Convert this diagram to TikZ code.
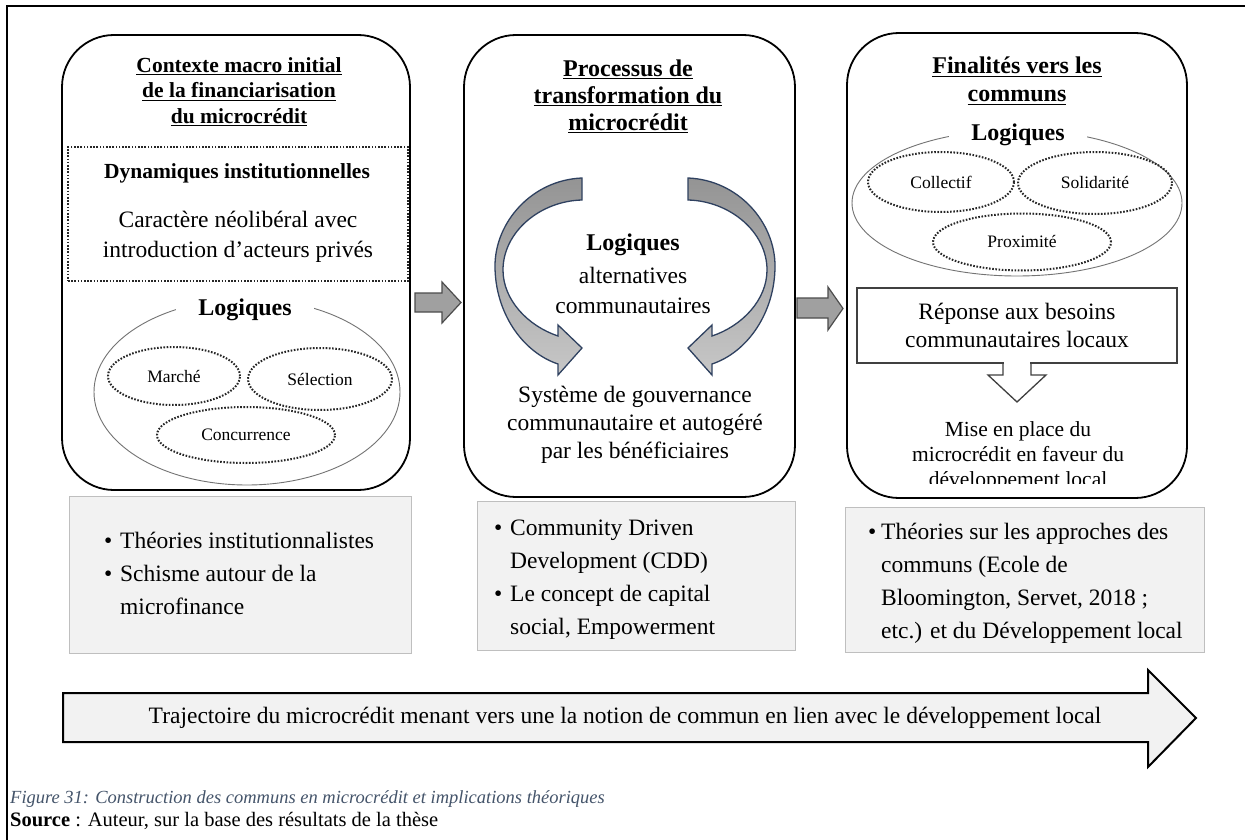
\documentclass[tikz,border=0pt]{standalone}
\usepackage{fontspec}
\setmainfont{Liberation Serif}
\usetikzlibrary{shapes.geometric}
\definecolor{capblue}{HTML}{44546A}
\definecolor{boxfill}{HTML}{F2F2F2}
\definecolor{boxline}{HTML}{BFBFBF}
\definecolor{navyline}{HTML}{2F4160}
\definecolor{arrowgray}{HTML}{A0A0A0}
\newsavebox\ulbox
\newcommand\ulx[1]{\sbox\ulbox{#1}\rlap{\rule[-3pt]{\wd\ulbox}{1.3pt}}\usebox\ulbox}
\tikzset{
  rbox/.style={draw, line width=1.8pt, rounded corners=52pt, inner sep=0pt},
  ttlA/.style={align=center, font=\fontsize{21.5}{25.5}\selectfont\bfseries, inner sep=0pt},
  ttlB/.style={align=center, font=\fontsize{24}{27}\selectfont\bfseries, inner sep=0pt},
  bodytxt/.style={align=center, font=\fontsize{23.5}{28}\selectfont, inner sep=0pt},
  smalltxt/.style={align=center, font=\fontsize{21.5}{25}\selectfont, inner sep=0pt},
  dotline/.style={draw=black!85, line width=2pt, dash pattern=on 1.6pt off 1.6pt},
  bigell/.style={ellipse, draw=black!55, line width=0.9pt, inner sep=0pt},
  smell/.style={ellipse, dotline, inner sep=0pt, font=\fontsize{17.5}{19}\selectfont},
  lgq/.style={fill=white, inner xsep=22pt, inner ysep=2pt, font=\fontsize{24}{26}\selectfont\bfseries},
  gbox/.style={fill=boxfill, draw=boxline, line width=1pt, inner sep=0pt},
  gtxt/.style={anchor=west, inner sep=0pt, font=\fontsize{23.5}{33}\selectfont},
  blockarrow/.style={fill=arrowgray, draw=black!70, line width=1.2pt, line join=miter},
  curvarrow/.style={top color=black!42, bottom color=black!22, draw=navyline, line width=1.3pt},
}
\begin{document}
\begin{tikzpicture}[x=1pt,y=-1pt]
\useasboundingbox (0,0) rectangle (1245,840);
\fill[white] (0,0) rectangle (1245,840);
\draw[line width=2.4pt] (7,841) -- (7,6) -- (1246,6);

% ---------- box 1
\node[rbox, minimum width=348pt, minimum height=455pt] (b1) at (236,262.5) {};
\node[ttlA] (t1) at (239,92) {\ulx{Contexte macro initial}\\\ulx{de la financiarisation}\\\ulx{du microcrédit}};
\node[dotline, minimum width=340pt, minimum height=134pt, inner sep=0pt] (d1) at (238,214) {};
\node[font=\fontsize{21.5}{25}\selectfont\bfseries, inner sep=0pt] (dyn) at (237,173) {Dynamiques institutionnelles};
\node[bodytxt, font=\fontsize{23.5}{30}\selectfont] (car) at (238,237) {Caractère néolibéral avec\\introduction d’acteurs privés};
\node[bigell, minimum width=306pt, minimum height=186pt] (e1) at (247,392) {};
\node[lgq] (lg1) at (245,310) {Logiques};
\node[smell, minimum width=132pt, minimum height=58pt] (m1) at (174,376) {Marché};
\node[smell, minimum width=144pt, minimum height=62pt] (s1) at (320,379) {Sélection};
\node[smell, minimum width=178pt, minimum height=56pt] (c1) at (246,435) {Concurrence};

% ---------- box 2
\node[rbox, minimum width=331pt, minimum height=462pt] (b2) at (629.5,266) {};
\node[ttlB] (t2) at (628,96.5) {\ulx{Processus de}\\\ulx{transformation du}\\\ulx{microcrédit}};
\draw[curvarrow] (582,178) .. controls (532,180) and (495,222) .. (495,266)
  .. controls (495,312) and (522,352) .. (558,364) -- (558,375) -- (582,348) -- (558,325) -- (558,336)
  .. controls (528,326) and (503,300) .. (503,270) .. controls (503,232) and (540,201) .. (582,200) -- cycle;
\begin{scope}[xshift=1270pt, xscale=-1]
\draw[curvarrow] (582,178) .. controls (532,180) and (495,222) .. (495,266)
  .. controls (495,312) and (522,352) .. (558,364) -- (558,375) -- (582,348) -- (558,325) -- (558,336)
  .. controls (528,326) and (503,300) .. (503,270) .. controls (503,232) and (540,201) .. (582,200) -- cycle;
\end{scope}
\node[font=\fontsize{24}{26}\selectfont\bfseries, inner sep=0pt] (lg2) at (633,245) {Logiques};
\node[bodytxt, font=\fontsize{23.5}{30}\selectfont] (alt) at (633,290) {alternatives\\communautaires};
\node[bodytxt] (sys) at (635,425) {Système de gouvernance\\communautaire et autogéré\\par les bénéficiaires};

% ---------- box 3
\node[rbox, minimum width=340pt, minimum height=465pt] (b3) at (1017,265.5) {};
\node[ttlB, font=\fontsize{24}{28}\selectfont\bfseries] (t3) at (1017,81) {\ulx{Finalités vers les}\\\ulx{communs}};
\node[bigell, minimum width=330pt, minimum height=146pt] (e3) at (1017,203) {};
\node[lgq] (lg3) at (1018,135) {Logiques};
\node[smell, minimum width=146pt, minimum height=60pt] (co) at (941,182) {Collectif};
\node[smell, minimum width=154pt, minimum height=62pt] (so) at (1095,183) {Solidarité};
\node[smell, minimum width=178pt, minimum height=57pt] (pr) at (1022,242) {Proximité};
\node[bodytxt, draw=black!75, line width=1.3pt, minimum width=320pt, minimum height=75pt] (rep) at (1017,325.5) {Réponse aux besoins\\communautaires locaux};
\fill[white] (1004.3,361) rectangle (1029.7,365.5);
\draw[black!75, line width=1.3pt, line join=miter] (1003,363) -- (1003,375) -- (988,375) -- (1017,402) -- (1046,375) -- (1031,375) -- (1031,363);
\begin{scope}
\clip (850,400) rectangle (1185,483.5);
\node[smalltxt] (mise) at (1018,456) {Mise en place du\\microcrédit en faveur du\\développement local};
\end{scope}

% ---------- connectors
\draw[blockarrow] (415,293) -- (442,293) -- (442,282) -- (461,302.5) -- (442,323) -- (442,312) -- (415,312) -- cycle;
\draw[blockarrow] (797,298) -- (828,298) -- (828,287) -- (843,308.5) -- (828,330) -- (828,318) -- (797,318) -- cycle;

% ---------- grey boxes
\node[gbox, minimum width=342pt, minimum height=157pt] (g1) at (240,574.5) {};
\node[gtxt] (l1) at (104,575) {\begin{tabular}{@{}p{16pt}@{}l@{}}\textbullet & Théories institutionnalistes\\ \textbullet & Schisme autour de la\\ & microfinance\end{tabular}};
\node[gbox, minimum width=318pt, minimum height=149pt] (g2) at (636,575.5) {};
\node[gtxt] (l2) at (494,578) {\begin{tabular}{@{}p{16pt}@{}l@{}}\textbullet & Community Driven\\ & Development (CDD)\\ \textbullet & Le concept de capital\\ & social, Empowerment\end{tabular}};
\node[gbox, minimum width=359pt, minimum height=145pt] (g3) at (1024.5,579.5) {};
\node[gtxt] (l3) at (868,582.5) {\begin{tabular}{@{}p{13pt}@{}l@{}}\textbullet & Théories sur les approches des\\ & communs (Ecole de\\ & Bloomington, Servet, 2018 ;\\ & etc.) et du Développement local\end{tabular}};

% ---------- trajectory arrow
\draw[fill=boxfill, line width=2pt, line join=miter] (63,693) -- (1148,693) -- (1148,670) -- (1196,718) -- (1148,767) -- (1148,742) -- (63,742) -- cycle;
\node[font=\fontsize{23.5}{26}\selectfont, inner sep=0pt] (traj) at (625,718) {Trajectoire du microcrédit menant vers une la notion de commun en lien avec le développement local};

% ---------- caption
\node[anchor=west, inner sep=0pt, font=\fontsize{18.5}{20}\selectfont\itshape, text=capblue] (cap) at (10,799) {Figure 31: Construction des communs en microcrédit et implications théoriques};
\node[anchor=west, inner sep=0pt, font=\fontsize{20.5}{22}\selectfont] (src) at (10,821) {\textbf{Source} : Auteur, sur la base des résultats de la thèse};
\end{tikzpicture}
\end{document}
